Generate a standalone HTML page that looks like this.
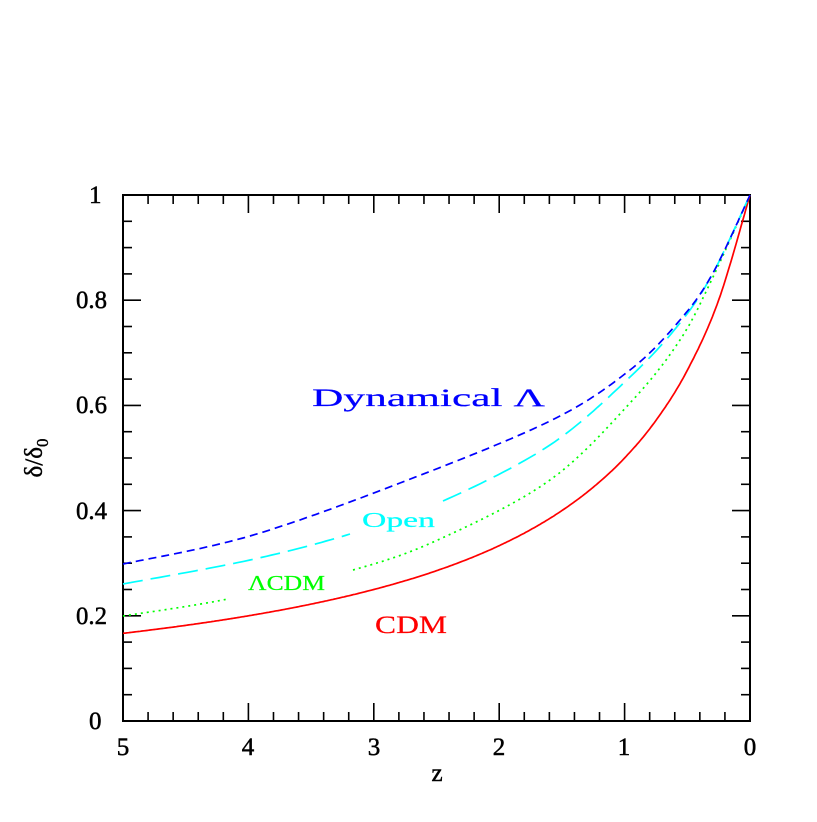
<!DOCTYPE html>
<html><head><style>body{margin:0;background:#fff}svg text{font-family:"Liberation Serif",serif}</style></head>
<body>
<svg id="s" width="817" height="817" xmlns="http://www.w3.org/2000/svg">
<rect x="123" y="195" width="627" height="526" fill="none" stroke="#000" stroke-width="2"/>
<g id="t" stroke="#000" stroke-width="1.6"></g>
<g id="c" fill="none" stroke-width="1.7"></g>
<g font-size="25" text-anchor="middle" stroke="#000" stroke-width="0.5">
<text x="123" y="755">5</text><text x="248" y="755">4</text><text x="374" y="755">3</text><text x="499" y="755">2</text><text x="624" y="755">1</text><text x="750" y="755">0</text>
<text x="437" y="781">z</text>
</g>
<g font-size="25" stroke="#000" stroke-width="0.5">
<text x="89" y="729">0</text><text x="76" y="624" textLength="31" lengthAdjust="spacingAndGlyphs">0.2</text><text x="76" y="519" textLength="31" lengthAdjust="spacingAndGlyphs">0.4</text><text x="76" y="413" textLength="31" lengthAdjust="spacingAndGlyphs">0.6</text><text x="76" y="308" textLength="31" lengthAdjust="spacingAndGlyphs">0.8</text><text x="89" y="203">1</text>
</g>
<text transform="translate(42,458) rotate(-90)" font-size="25" text-anchor="middle" stroke="#000" stroke-width="0.4">δ/δ<tspan font-size="17" dy="6">0</tspan></text>
<g font-size="25" stroke-width="0.2">
<text x="312" y="406" fill="#0000ff" stroke="#0000ff" textLength="233" lengthAdjust="spacingAndGlyphs">Dynamical Λ</text>
<text x="362" y="527" fill="#00ffff" stroke="#00ffff" font-size="21" textLength="73" lengthAdjust="spacingAndGlyphs">Open</text>
<text x="248" y="590" fill="#00ff00" stroke="#00ff00" font-size="21" textLength="77" lengthAdjust="spacingAndGlyphs">ΛCDM</text>
<text x="375" y="633" fill="#ff0000" stroke="#ff0000" textLength="72" lengthAdjust="spacingAndGlyphs">CDM</text>
</g>
</svg>
<script>
const X=z=>750-z*125.4, Y=v=>721-v*526;
let t='';
for(let i=0;i<=25;i++){const x=X(i/5),L=i%5?9:18;t+=`<line x1="${x}" y1="721" x2="${x}" y2="${721-L}"/><line x1="${x}" y1="195" x2="${x}" y2="${195+L}"/>`;}
for(let i=0;i<=20;i++){const y=Y(i/20),L=i%4?9:18;t+=`<line x1="123" y1="${y}" x2="${123+L}" y2="${y}"/><line x1="750" y1="${y}" x2="${750-L}" y2="${y}"/>`;}
document.getElementById('t').innerHTML=t;
function cr(P){const out=[];for(let i=0;i<P.length-1;i++){const p0=P[Math.max(i-1,0)],p1=P[i],p2=P[i+1],p3=P[Math.min(i+2,P.length-1)];for(let k=0;k<20;k++){const s=k/20,s2=s*s,s3=s2*s;const f=(a,b,c,d)=>0.5*(2*b+(-a+c)*s+(2*a-5*b+4*c-d)*s2+(-a+3*b-3*c+d)*s3);out.push([f(p0[0],p1[0],p2[0],p3[0]),f(p0[1],p1[1],p2[1],p3[1])]);}}out.push(P[P.length-1]);return out;}
function path(P,col,dash,gaps){const pts=cr(P);let s='',pen=false;for(const [x,y] of pts){if(gaps.some(g=>x>g[0]&&x<g[1])){pen=false;continue;}s+=(pen?'L':'M')+x.toFixed(1)+','+y.toFixed(1);pen=true;}
return `<path d="${s}" stroke="${col}" ${dash?'stroke-dasharray="'+dash+'"':''}/>`;}
let red=[];for(let z=5;z>=0;z-=0.25)red.push([X(z),Y(1/(1+z))]);
document.getElementById('c').innerHTML=
path(red,'#ff0000','',[])+
path([[123,616],[228,599],[353,570],[440,539],[550,480],[630,403],[680,340],[713,277],[750,195]],'#00ff00','2 4',[[232,352]])+
path([[123,584],[250,560],[350,534],[443,501],[550,445],[630,377],[680,323],[713,273],[750,195]],'#00ffff','20 8',[[354,442]])+
path([[123,564],[250,536],[400,483],[550,421],[630,370],[680,320],[713,273],[750,195]],'#0000ff','8 5',[]);
</script>
</body></html>
